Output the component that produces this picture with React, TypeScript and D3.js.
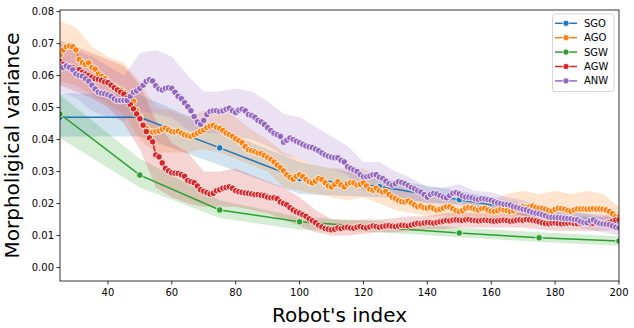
import React from 'react';
import * as d3 from 'd3';

// robot index (x) for the dense series and the sparse ones
const robotIdx = d3.range(25, 201);
const sparseIdx = [25, 50, 75, 100, 125, 150, 175, 200];
const bandIdx = d3.range(25, 201, 5);

const xTicks = [40, 60, 80, 100, 120, 140, 160, 180, 200];
const yTicks = [0, 0.01, 0.02, 0.03, 0.04, 0.05, 0.06, 0.07, 0.08];

const seriesNames = ['SGO', 'AGO', 'SGW', 'AGW', 'ANW'];
const colors = ['#1f77b4', '#ff7f0e', '#2ca02c', '#d62728', '#9467bd'];

// SGO (sparse)
const sgoMean = [0.047, 0.047, 0.0374, 0.0278, 0.0253, 0.0212, 0.0172, 0.0135];
const sgoLo = [0.041, 0.041, 0.032, 0.023, 0.022, 0.0195, 0.0155, 0.012];
const sgoHi = [0.0545, 0.054, 0.043, 0.033, 0.028, 0.024, 0.019, 0.015];

// SGW (sparse)
const sgwMean = [0.048, 0.0289, 0.018, 0.0143, 0.0125, 0.0108, 0.0093, 0.0083];
const sgwLo = [0.0405, 0.025, 0.0155, 0.0118, 0.011, 0.0095, 0.008, 0.0068];
const sgwHi = [0.054, 0.034, 0.021, 0.0158, 0.0145, 0.0125, 0.011, 0.0098];

// AGO
const agoMean = [
  0.0665, 0.068, 0.069, 0.0692, 0.069, 0.068, 0.065, 0.064, 0.0635, 0.064,
  0.0625, 0.062, 0.0605, 0.0598, 0.059, 0.058, 0.057, 0.0565, 0.0558, 0.0555,
  0.0548, 0.054, 0.0533, 0.052, 0.049, 0.047, 0.0446, 0.0435, 0.0425, 0.0423,
  0.0425, 0.0427, 0.0432, 0.0436, 0.043, 0.0425, 0.0424, 0.0426, 0.042, 0.0415,
  0.0412, 0.041, 0.0415, 0.042, 0.0425, 0.043, 0.0438, 0.0442, 0.0444, 0.0438,
  0.0435, 0.0428, 0.042, 0.0415, 0.041, 0.0402, 0.0396, 0.039, 0.0378, 0.0368,
  0.0365, 0.0362, 0.0358, 0.0356, 0.035, 0.0344, 0.0338, 0.033, 0.032, 0.0312,
  0.0302, 0.029, 0.0282, 0.0276, 0.0285, 0.029, 0.0284, 0.0275, 0.0268, 0.0265,
  0.027, 0.0278, 0.0275, 0.0265, 0.0255, 0.0252, 0.026, 0.0268, 0.0258, 0.0252,
  0.0262, 0.0265, 0.0264, 0.0258, 0.026, 0.0265, 0.0255, 0.0245, 0.0242, 0.0248,
  0.024, 0.0236, 0.0238, 0.0228, 0.022, 0.0216, 0.021, 0.0206, 0.0205, 0.0208,
  0.0202, 0.0196, 0.019, 0.0192, 0.0187, 0.0186, 0.0188, 0.0184, 0.018, 0.0182,
  0.0186, 0.019, 0.019, 0.0184, 0.0178, 0.0175, 0.0178, 0.0185, 0.0188, 0.0186,
  0.0182, 0.018, 0.0184, 0.0185, 0.018, 0.0176, 0.0175, 0.0178, 0.0182, 0.018,
  0.0178, 0.0175, 0.0178, 0.0183, 0.019, 0.0191, 0.0188, 0.019, 0.0192, 0.0188,
  0.0186, 0.0185, 0.0182, 0.0178, 0.0176, 0.0182, 0.0185, 0.0184, 0.0182, 0.0178,
  0.0176, 0.018, 0.0183, 0.0183, 0.0183, 0.0182, 0.0183, 0.0184, 0.0183, 0.0183,
  0.0182, 0.018, 0.0175, 0.0168, 0.016, 0.0158,
];
const agoLo = [
  0.058, 0.057, 0.054, 0.051, 0.048, 0.040, 0.036, 0.036, 0.036, 0.037, 0.036, 0.034,
  0.032, 0.030, 0.025, 0.024, 0.023, 0.022, 0.021, 0.022, 0.020, 0.018, 0.017, 0.016,
  0.016, 0.015, 0.015, 0.015, 0.015, 0.016, 0.016, 0.016, 0.016, 0.016, 0.016, 0.014,
];
const agoHi = [
  0.077, 0.075, 0.069, 0.066, 0.064, 0.058, 0.050, 0.049, 0.047, 0.049, 0.050, 0.047,
  0.043, 0.040, 0.036, 0.034, 0.032, 0.031, 0.031, 0.031, 0.028, 0.026, 0.024, 0.022,
  0.022, 0.021, 0.022, 0.021, 0.023, 0.024, 0.023, 0.024, 0.023, 0.024, 0.023, 0.019,
];

// AGW
const agwMean = [
  0.0644, 0.0635, 0.063, 0.0628, 0.0625, 0.062, 0.0618, 0.061, 0.0605, 0.06,
  0.0595, 0.059, 0.0588, 0.0585, 0.058, 0.0578, 0.057, 0.0562, 0.0555, 0.0548,
  0.0542, 0.053, 0.051, 0.0496, 0.048, 0.0465, 0.0445, 0.0425, 0.0405, 0.0393,
  0.0352, 0.0346, 0.0327, 0.031, 0.0302, 0.0296, 0.0295, 0.0294, 0.029, 0.0285,
  0.0272, 0.0268, 0.0265, 0.0255, 0.0243, 0.0238, 0.0234, 0.023, 0.0232, 0.024,
  0.0243, 0.0248, 0.025, 0.0252, 0.0248, 0.024, 0.0237, 0.0235, 0.0233, 0.0232,
  0.023, 0.0228, 0.0228, 0.0226, 0.0224, 0.022, 0.0218, 0.0218, 0.0215, 0.0205,
  0.02, 0.0196, 0.0187, 0.018, 0.0174, 0.017, 0.0165, 0.016, 0.0152, 0.0146,
  0.014, 0.0132, 0.0127, 0.0122, 0.012, 0.0118, 0.012, 0.0124, 0.0122, 0.0125,
  0.0126, 0.0124, 0.0123, 0.0126, 0.0128, 0.0125, 0.0124, 0.0127, 0.013, 0.0128,
  0.0126, 0.0128, 0.013, 0.0131, 0.0129, 0.0128, 0.013, 0.0132, 0.0131, 0.013,
  0.0133, 0.0136, 0.0138, 0.0137, 0.0139, 0.0141, 0.014, 0.0139, 0.0141, 0.0143,
  0.0145, 0.0147, 0.0146, 0.0148, 0.0149, 0.0148, 0.0147, 0.0149, 0.015, 0.0148,
  0.0147, 0.0146, 0.0147, 0.0148, 0.0147, 0.0146, 0.0145, 0.0146, 0.0147, 0.0148,
  0.0147, 0.0145, 0.0146, 0.0148, 0.0149, 0.0148, 0.015, 0.0149, 0.0148, 0.0146,
  0.0143, 0.014, 0.0138, 0.0137, 0.0139, 0.014, 0.0138, 0.0137, 0.0138, 0.0139,
  0.014, 0.0138, 0.0137, 0.0139, 0.014, 0.0138, 0.0137, 0.0138, 0.0139, 0.0138,
  0.0137, 0.0139, 0.0141, 0.0145, 0.0148, 0.0149,
];
const agwLo = [
  0.057, 0.055, 0.053, 0.050, 0.045, 0.037, 0.025, 0.022, 0.020, 0.019, 0.019, 0.019,
  0.018, 0.017, 0.015, 0.013, 0.011, 0.010, 0.010, 0.0105, 0.011, 0.011, 0.0115, 0.012,
  0.012, 0.0125, 0.0125, 0.0125, 0.0125, 0.0125, 0.012, 0.0115, 0.0115, 0.0115, 0.0115, 0.012,
];
const agwHi = [
  0.071, 0.069, 0.067, 0.065, 0.063, 0.057, 0.046, 0.039, 0.036, 0.030, 0.030, 0.031,
  0.029, 0.027, 0.025, 0.022, 0.018, 0.015, 0.0148, 0.015, 0.015, 0.0155, 0.016, 0.016,
  0.017, 0.0172, 0.017, 0.017, 0.017, 0.017, 0.017, 0.0165, 0.016, 0.016, 0.016, 0.0175,
];

// ANW
const anwMean = [
  0.0628, 0.0625, 0.063, 0.0625, 0.0618, 0.0605, 0.06, 0.0598, 0.059, 0.0582,
  0.057, 0.0558, 0.0548, 0.0545, 0.0543, 0.054, 0.0535, 0.0527, 0.0522, 0.0522,
  0.0522, 0.0522, 0.0535, 0.0548, 0.0552, 0.056, 0.057, 0.0582, 0.0587, 0.0583,
  0.0568, 0.0558, 0.0555, 0.056, 0.0562, 0.056, 0.0548, 0.0535, 0.0528, 0.0515,
  0.0503, 0.049, 0.0472, 0.0455, 0.0448, 0.046, 0.0478, 0.0488, 0.049, 0.049,
  0.0488, 0.049, 0.0495, 0.0498, 0.049, 0.0485, 0.0492, 0.0495, 0.049, 0.0478,
  0.0475, 0.047, 0.046, 0.0455, 0.0447, 0.0437, 0.0428, 0.042, 0.0415, 0.041,
  0.0392, 0.0398, 0.0405, 0.04, 0.0395, 0.039, 0.0385, 0.038, 0.0377, 0.0375,
  0.037, 0.0365, 0.0358, 0.0352, 0.0348, 0.0345, 0.0343, 0.0343, 0.0335, 0.033,
  0.0315, 0.031, 0.0305, 0.03, 0.029, 0.0284, 0.0284, 0.0286, 0.029, 0.029,
  0.0282, 0.0278, 0.027, 0.0262, 0.0258, 0.0262, 0.0268, 0.0266, 0.0262, 0.0256,
  0.025, 0.0246, 0.024, 0.0236, 0.0228, 0.022, 0.0228, 0.0232, 0.023, 0.0225,
  0.022, 0.0218, 0.0225, 0.0232, 0.0234, 0.023, 0.0224, 0.022, 0.022, 0.0218,
  0.0214, 0.0213, 0.0215, 0.0214, 0.0212, 0.021, 0.0205, 0.0202, 0.02, 0.0198,
  0.0197, 0.0195, 0.019, 0.0188, 0.0185, 0.0182, 0.018, 0.0176, 0.0172, 0.017,
  0.0168, 0.0165, 0.0162, 0.0158, 0.0157, 0.0156, 0.0156, 0.0155, 0.0154, 0.0153,
  0.0152, 0.015, 0.0149, 0.0144, 0.0141, 0.014, 0.0146, 0.0149, 0.0142, 0.0138,
  0.0136, 0.0135, 0.0134, 0.013, 0.0126, 0.0124,
];
const anwLo = [
  0.055, 0.053, 0.049, 0.047, 0.046, 0.049, 0.048, 0.047, 0.043, 0.042, 0.042, 0.041,
  0.040, 0.038, 0.035, 0.034, 0.032, 0.031, 0.029, 0.024, 0.0235, 0.022, 0.021, 0.020,
  0.020, 0.020, 0.019, 0.018, 0.0175, 0.016, 0.015, 0.0135, 0.013, 0.012, 0.011, 0.010,
];
const anwHi = [
  0.070, 0.068, 0.066, 0.063, 0.060, 0.067, 0.068, 0.066, 0.060, 0.055, 0.055, 0.056,
  0.055, 0.052, 0.048, 0.047, 0.044, 0.041, 0.038, 0.033, 0.033, 0.030, 0.028, 0.025,
  0.025, 0.026, 0.024, 0.0235, 0.022, 0.021, 0.019, 0.018, 0.0175, 0.017, 0.0165, 0.0148,
];

const W = 634;
const H = 328;
const plot = { left: 60, right: 619, top: 10, bottom: 281 };
const font = "'DejaVu Sans', sans-serif";

const x = d3.scaleLinear().domain([25, 200]).range([plot.left, plot.right]);
const y = d3.scaleLinear().domain([-0.0042, 0.0805]).range([plot.bottom, plot.top]);

type Series = {
  name: string;
  color: string;
  xs: number[];
  mean: number[];
  bx: number[];
  lo: number[];
  hi: number[];
};

const series: Series[] = [
  { name: seriesNames[0], color: colors[0], xs: sparseIdx, mean: sgoMean, bx: sparseIdx, lo: sgoLo, hi: sgoHi },
  { name: seriesNames[1], color: colors[1], xs: robotIdx, mean: agoMean, bx: bandIdx, lo: agoLo, hi: agoHi },
  { name: seriesNames[2], color: colors[2], xs: sparseIdx, mean: sgwMean, bx: sparseIdx, lo: sgwLo, hi: sgwHi },
  { name: seriesNames[3], color: colors[3], xs: robotIdx, mean: agwMean, bx: bandIdx, lo: agwLo, hi: agwHi },
  { name: seriesNames[4], color: colors[4], xs: robotIdx, mean: anwMean, bx: bandIdx, lo: anwLo, hi: anwHi },
];

const line = d3.line<[number, number]>().x(d => x(d[0])).y(d => y(d[1]));
const area = d3.area<[number, number, number]>()
  .x(d => x(d[0]))
  .y0(d => y(d[1]))
  .y1(d => y(d[2]));

export default function App() {
  return (
    <svg width={W} height={H} style={{ position: 'absolute', left: 0, top: 0, background: '#fff' }}
      fontFamily={font}>
      <defs>
        <clipPath id="plotclip">
          <rect x={plot.left} y={plot.top} width={plot.right - plot.left} height={plot.bottom - plot.top} />
        </clipPath>
      </defs>
      <g clipPath="url(#plotclip)">
        {/* confidence bands */}
        {series.map(s => (
          <path key={'band-' + s.name}
            d={area(s.bx.map((v, i) => [v, s.lo[i], s.hi[i]] as [number, number, number])) || ''}
            fill={s.color} fillOpacity={0.2} stroke="none" />
        ))}
        {/* lines + markers */}
        {series.map(s => {
          const pts = s.xs.map((v, i) => [v, s.mean[i]] as [number, number]);
          return (
            <g key={'line-' + s.name}>
              <path d={line(pts) || ''} fill="none" stroke={s.color} strokeWidth={1.5} />
              {pts.map((p, i) => (
                <circle key={i} cx={x(p[0])} cy={y(p[1])} r={3.3}
                  fill={s.color} stroke="#fff" strokeWidth={0.8} />
              ))}
            </g>
          );
        })}
      </g>

      {/* frame */}
      <rect x={plot.left} y={plot.top} width={plot.right - plot.left} height={plot.bottom - plot.top}
        fill="none" stroke="#000" strokeWidth={0.8} />

      {/* x axis */}
      {xTicks.map(t => (
        <g key={'xt' + t} transform={`translate(${x(t)},${plot.bottom})`}>
          <line y2={3.5} stroke="#000" strokeWidth={0.8} />
          <text y={15} textAnchor="middle" fontSize={10} fill="#000">{t}</text>
        </g>
      ))}
      {/* y axis */}
      {yTicks.map(t => (
        <g key={'yt' + t} transform={`translate(${plot.left},${y(t)})`}>
          <line x2={-3.5} stroke="#000" strokeWidth={0.8} />
          <text x={-6} dy="0.35em" textAnchor="end" fontSize={10} fill="#000">{t.toFixed(2)}</text>
        </g>
      ))}

      <text x={(plot.left + plot.right) / 2} y={322} textAnchor="middle" fontSize={20} fill="#000">
        Robot's index
      </text>
      <text transform={`translate(19,${(plot.top + plot.bottom) / 2}) rotate(-90)`}
        textAnchor="middle" fontSize={20} fill="#000">
        Morpholigical variance
      </text>

      {/* legend */}
      <g>
        <rect x={552.5} y={14} width={61.5} height={77.5} rx={2.5}
          fill="#fff" fillOpacity={0.8} stroke="#ccc" strokeWidth={0.8} />
        {series.map((s, i) => {
          const ly = 23.3 + i * 14.4;
          return (
            <g key={'lg' + s.name}>
              <line x1={555} x2={577} y1={ly} y2={ly} stroke={s.color} strokeWidth={1.5} />
              <circle cx={566} cy={ly} r={3.1} fill={s.color} stroke="#fff" strokeWidth={0.8} />
              <text x={584} y={ly} dy="0.35em" fontSize={10} fill="#000">{s.name}</text>
            </g>
          );
        })}
      </g>
    </svg>
  );
}
